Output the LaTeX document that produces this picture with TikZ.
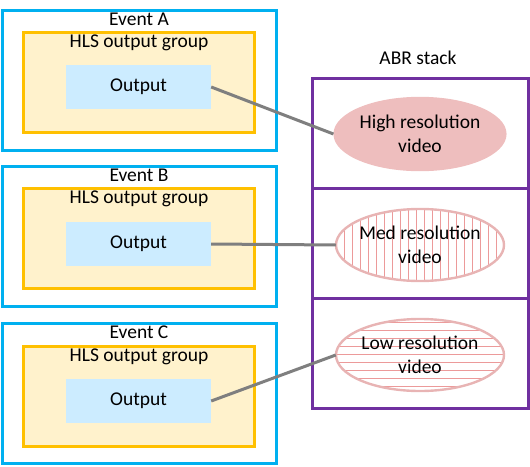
\documentclass[tikz,border=0pt]{standalone}
\usepackage{fontspec}
\setmainfont{Carlito}
\usepackage{tikz}
\usetikzlibrary{shapes.geometric}
\usetikzlibrary{patterns.meta}
\usepackage{xcolor}
\definecolor{evblue}{HTML}{00B0F0}
\definecolor{grporange}{HTML}{FFC000}
\definecolor{grpfill}{HTML}{FFF2CC}
\definecolor{outfill}{HTML}{CCECFF}
\definecolor{abrpurple}{HTML}{7030A0}
\definecolor{vidpink}{HTML}{EEBEBE}
\definecolor{vidline}{HTML}{E8B4B4}
\definecolor{hatch}{HTML}{EC9A9A}
\definecolor{linkgrey}{HTML}{7F7F7F}

\begin{document}
\begin{tikzpicture}[x=1pt,y=-1pt,
  every node/.style={font=\fontsize{19.5}{24}\selectfont},
  eventbox/.style={draw=evblue,line width=3pt,minimum width=274pt,minimum height=140pt},
  groupbox/.style={draw=grporange,fill=grpfill,line width=3pt,minimum width=231pt,minimum height=100pt},
  outbox/.style={fill=outfill,minimum width=145pt,minimum height=44pt},
  stackbox/.style={draw=abrpurple,line width=3pt,minimum width=216pt,minimum height=110pt},
  video/.style={ellipse,draw=vidline,line width=2.4pt,minimum width=168pt,minimum height=72pt,align=center,inner sep=0pt},
  link/.style={draw=linkgrey,line width=3pt}]
  \useasboundingbox (0,0) rectangle (530,466);

  % Event A
  \node[eventbox] (evA) at (139,80) {};
  \node (evAt) at (139,19) {Event A};
  \node[groupbox] (grpA) at (138.5,82) {};
  \node (grpAt) at (139,43) {HLS output group};
  \node[outbox] (outA) at (138.5,87) {Output};

  % Event B
  \node[eventbox] (evB) at (139,236) {};
  \node (evBt) at (139,175) {Event B};
  \node[groupbox] (grpB) at (138.5,238.5) {};
  \node (grpBt) at (139,199) {HLS output group};
  \node[outbox] (outB) at (138.5,244) {Output};

  % Event C
  \node[eventbox] (evC) at (139,393) {};
  \node (evCt) at (139,332) {Event C};
  \node[groupbox] (grpC) at (138.5,396) {};
  \node (grpCt) at (139,357) {HLS output group};
  \node[outbox] (outC) at (138.5,401) {Output};

  % ABR stack
  \node (abr) at (418,58) {ABR stack};
  \node[stackbox] (stk1) at (420,133.5) {};
  \node[stackbox] (stk2) at (420,243) {};
  \node[stackbox] (stk3) at (420,353) {};
  \node[video,fill=vidpink,draw=vidpink] (hi) at (420,134) {High resolution\\video};
  \node[video,pattern={Lines[angle=90,distance=8pt,line width=0.5pt]},pattern color=hatch] (med) at (420,245) {};
  \node[video,draw=none] (medt) at (420,245) {Med resolution\\video};
  \node[video,pattern={Lines[angle=0,distance=8pt,line width=0.5pt]},pattern color=hatch] (lo) at (420,355) {};
  \node[video,draw=none] (lot) at (420,355) {Low resolution\\video};

  \draw[link] (outA.east) -- (hi.west);
  \draw[link] (outB.east) -- (med.west);
  \draw[link] (outC.east) -- (lo.west);
\end{tikzpicture}
\end{document}
